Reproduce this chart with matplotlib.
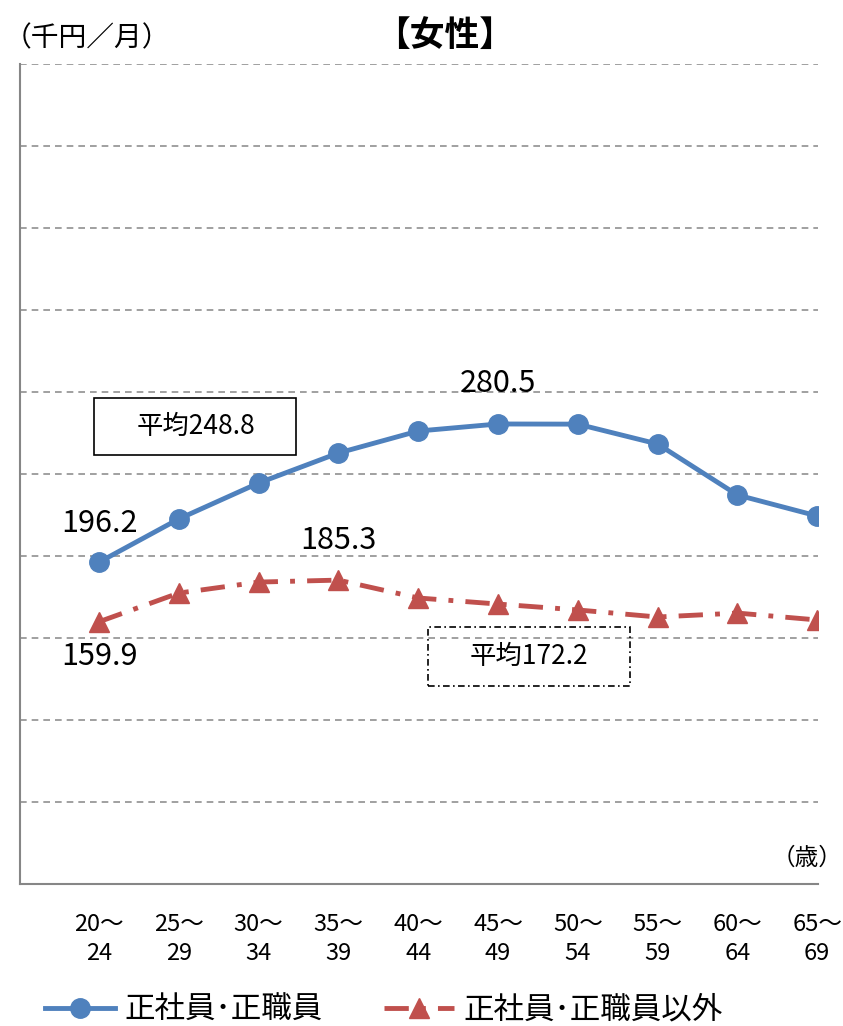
import matplotlib
matplotlib.use("Agg")
import matplotlib.pyplot as plt
from matplotlib.patches import Rectangle
from matplotlib.lines import Line2D

plt.rcParams['font.family'] = ['Noto Sans CJK JP', 'DejaVu Sans']

# 年齢階級
age_groups = ["20～\n24", "25～\n29", "30～\n34", "35～\n39", "40～\n44",
              "45～\n49", "50～\n54", "55～\n59", "60～\n64", "65～\n69"]
# 正社員・正職員 (千円)
regular = [196.2, 222.6, 244.5, 262.8, 276.2, 280.5, 280.4, 268.3, 237.2, 224.4]
# 正社員・正職員以外 (千円)
non_regular = [159.9, 177.4, 184.1, 185.3, 174.4, 170.7, 167.1, 162.8, 165.2, 161.0]

avg_regular = 248.8
avg_non_regular = 172.2

blue = "#4F81BD"
red = "#C0504D"
red_ls = (0, (5, 2.5, 1, 2.5))

fig = plt.figure(figsize=(8.43, 10.26), dpi=100)
ax = fig.add_axes([20 / 843, 1 - 884 / 1026, 798 / 843, 820 / 1026])

x = list(range(len(age_groups)))
ax.plot(x, regular, color=blue, lw=3.5, marker="o", ms=14, zorder=3)
ax.plot(x, non_regular, color=red, lw=3.5, ls=red_ls, marker="^", ms=14, zorder=3)

ax.set_xlim(-0.99, 9.01)
ax.set_ylim(0, 500)
ax.set_yticks(range(50, 501, 50))
ax.yaxis.grid(True, color="#909090", ls=(0, (4, 3)), lw=1.2)
ax.set_axisbelow(True)
ax.tick_params(axis="y", left=False, labelleft=False)
ax.set_xticks(x)
ax.set_xticklabels(age_groups, fontsize=17, linespacing=1.35)
ax.tick_params(axis="x", length=0, pad=21)
for s in ["top", "right"]:
    ax.spines[s].set_visible(False)
for s in ["left", "bottom"]:
    ax.spines[s].set_color("#868686")
    ax.spines[s].set_linewidth(1.5)

# データラベル
ax.text(0, regular[0] + 14, f"{regular[0]:.1f}", fontsize=22, ha="center", va="bottom")
ax.text(5, regular[5] + 15, f"{regular[5]:.1f}", fontsize=22, ha="center", va="bottom")
ax.text(3, non_regular[3] + 15, f"{non_regular[3]:.1f}", fontsize=22, ha="center", va="bottom")
ax.text(0, non_regular[0] - 12, f"{non_regular[0]:.1f}", fontsize=22, ha="center", va="top")

# 平均値の枠
ax.add_patch(Rectangle((-0.06, 261.6), 2.53, 34.7, fill=False, ec="black", lw=1.2, zorder=4))
ax.text(1.21, 279, f"平均{avg_regular}", fontsize=19, ha="center", va="center")
ax.add_patch(Rectangle((4.12, 120.7), 2.54, 36.0, fill=False, ec="black", lw=1.2,
                       ls=(0, (4, 2, 1, 2)), zorder=4))
ax.text(5.39, 138.5, f"平均{avg_non_regular}", fontsize=19, ha="center", va="center")

fig.text(445 / 843, 1 - 35 / 1026, "【女性】", fontsize=25, fontweight="bold", ha="center", va="center")
fig.text(4 / 843, 1 - 38 / 1026, "（千円／月）", fontsize=20, ha="left", va="center")
fig.text(842 / 843, 1 - 858 / 1026, "（歳）", fontsize=17, ha="right", va="center")

handles = [
    Line2D([], [], color=blue, lw=3.5, marker="o", ms=14),
    Line2D([], [], color=red, lw=3.5, ls=red_ls, marker="^", ms=14),
]
fig.legend(handles, ["正社員･正職員", "正社員･正職員以外"], loc="center",
           bbox_to_anchor=(0.455, 1 - 1010 / 1026), ncol=2, frameon=False,
           fontsize=22, handlelength=2.3, handletextpad=0.3, columnspacing=2.0)

fig.savefig("out.png", dpi=100)
